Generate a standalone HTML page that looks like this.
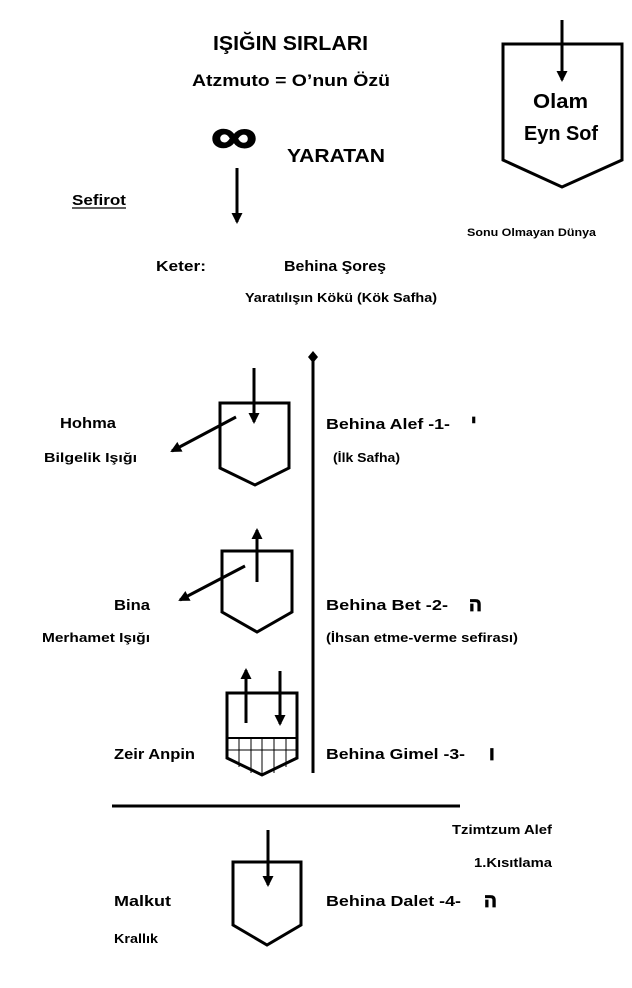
<!DOCTYPE html>
<html><head><meta charset="utf-8"><style>
html,body{margin:0;padding:0;background:#fff;}
svg{display:block;}
text{font-family:"Liberation Sans",sans-serif;font-weight:bold;fill:#000;}
</style></head><body>
<svg width="632" height="988" viewBox="0 0 632 988" xmlns="http://www.w3.org/2000/svg">
<defs>
<marker id="ah" markerWidth="12" markerHeight="12" refX="9" refY="6" orient="auto" markerUnits="userSpaceOnUse">
<path d="M0,0.5 L11,6 L0,11.5 z" fill="#000"/>
</marker>
</defs>
<g stroke="#000" stroke-width="3" fill="none">
<path d="M503,44 L622,44 L622,160 L562,187 L503,160 Z"/>
<path d="M220,403 L289,403 L289,468 L255,485 L220,468 Z"/>
<path d="M222,551 L292,551 L292,612 L257,632 L222,612 Z"/>
<path d="M227,693 L297,693 L297,758 L262,775 L227,758 Z"/>
<path d="M233,862 L301,862 L301,925 L267,945 L233,925 Z"/>
<line x1="313" y1="357" x2="313" y2="773"/>
<line x1="112" y1="806" x2="460" y2="806"/>
</g>
<path d="M313,351 L318,357 L313,363 L308,357 Z" fill="#000"/>
<g stroke="#000" stroke-width="1">
<line x1="227" y1="738" x2="297" y2="738" stroke-width="2"/>
<line x1="227" y1="750" x2="297" y2="750"/>
<line x1="239" y1="738" x2="239" y2="767"/>
<line x1="251" y1="738" x2="251" y2="773"/>
<line x1="262" y1="738" x2="262" y2="775"/>
<line x1="274" y1="738" x2="274" y2="773"/>
<line x1="286" y1="738" x2="286" y2="767"/>
</g>
<g stroke="#000" stroke-width="3" marker-end="url(#ah)">
<line x1="562" y1="20" x2="562" y2="80"/>
<line x1="237" y1="168" x2="237" y2="222"/>
<line x1="254" y1="368" x2="254" y2="422"/>
<line x1="236" y1="417" x2="172" y2="451"/>
<line x1="257" y1="582" x2="257" y2="530"/>
<line x1="245" y1="566" x2="180" y2="600"/>
<line x1="246" y1="723" x2="246" y2="670"/>
<line x1="280" y1="671" x2="280" y2="724"/>
<line x1="268" y1="830" x2="268" y2="885"/>
</g>
<text x="213" y="50" font-size="20" textLength="155" lengthAdjust="spacingAndGlyphs">IŞIĞIN SIRLARI</text>
<text x="192" y="86" font-size="17" textLength="198" lengthAdjust="spacingAndGlyphs">Atzmuto = O’nun Özü</text>
<text x="211" y="153" font-size="50" stroke="#000" stroke-width="1.5" textLength="46" lengthAdjust="spacingAndGlyphs">∞</text>
<text x="287" y="162" font-size="18" textLength="98" lengthAdjust="spacingAndGlyphs">YARATAN</text>
<text x="72" y="205" font-size="15" textLength="54" lengthAdjust="spacingAndGlyphs">Sefirot</text>
<line x1="72" y1="208" x2="126" y2="208" stroke="#000" stroke-width="1.3"/>
<text x="533" y="108" font-size="20" textLength="55" lengthAdjust="spacingAndGlyphs">Olam</text>
<text x="524" y="140" font-size="20" textLength="74" lengthAdjust="spacingAndGlyphs">Eyn Sof</text>
<text x="467" y="236" font-size="11" textLength="129" lengthAdjust="spacingAndGlyphs">Sonu Olmayan Dünya</text>
<text x="156" y="271" font-size="15" textLength="50" lengthAdjust="spacingAndGlyphs">Keter:</text>
<text x="284" y="271" font-size="15" textLength="102" lengthAdjust="spacingAndGlyphs">Behina Şoreş</text>
<text x="245" y="302" font-size="13" textLength="192" lengthAdjust="spacingAndGlyphs">Yaratılışın Kökü (Kök Safha)</text>
<text x="60" y="428" font-size="15" textLength="56" lengthAdjust="spacingAndGlyphs">Hohma</text>
<text x="44" y="462" font-size="13" textLength="93" lengthAdjust="spacingAndGlyphs">Bilgelik Işığı</text>
<text x="326" y="429" font-size="15" textLength="124" lengthAdjust="spacingAndGlyphs">Behina Alef   -1-</text>
<text x="471" y="428" font-size="18" stroke="#000" stroke-width="0.8">י</text>
<text x="333" y="462" font-size="13" textLength="67" lengthAdjust="spacingAndGlyphs">(İlk Safha)</text>
<text x="114" y="610" font-size="15" textLength="36" lengthAdjust="spacingAndGlyphs">Bina</text>
<text x="42" y="642" font-size="13" textLength="108" lengthAdjust="spacingAndGlyphs">Merhamet Işığı</text>
<text x="326" y="610" font-size="15" textLength="122" lengthAdjust="spacingAndGlyphs">Behina Bet   -2-</text>
<text x="469" y="611" font-size="19" stroke="#000" stroke-width="0.8">ה</text>
<text x="326" y="642" font-size="13" textLength="192" lengthAdjust="spacingAndGlyphs">(İhsan etme-verme sefirası)</text>
<text x="114" y="759" font-size="15" textLength="81" lengthAdjust="spacingAndGlyphs">Zeir Anpin</text>
<text x="326" y="759" font-size="15" textLength="139" lengthAdjust="spacingAndGlyphs">Behina Gimel   -3-</text>
<text x="489" y="760" font-size="19" stroke="#000" stroke-width="0.8">ו</text>
<text x="452" y="834" font-size="13" textLength="100" lengthAdjust="spacingAndGlyphs">Tzimtzum Alef</text>
<text x="474" y="867" font-size="13" textLength="78" lengthAdjust="spacingAndGlyphs">1.Kısıtlama</text>
<text x="114" y="906" font-size="15" textLength="57" lengthAdjust="spacingAndGlyphs">Malkut</text>
<text x="114" y="943" font-size="13" textLength="44" lengthAdjust="spacingAndGlyphs">Krallık</text>
<text x="326" y="906" font-size="15" textLength="135" lengthAdjust="spacingAndGlyphs">Behina Dalet   -4-</text>
<text x="484" y="907" font-size="19" stroke="#000" stroke-width="0.8">ה</text>
</svg>
</body></html>
